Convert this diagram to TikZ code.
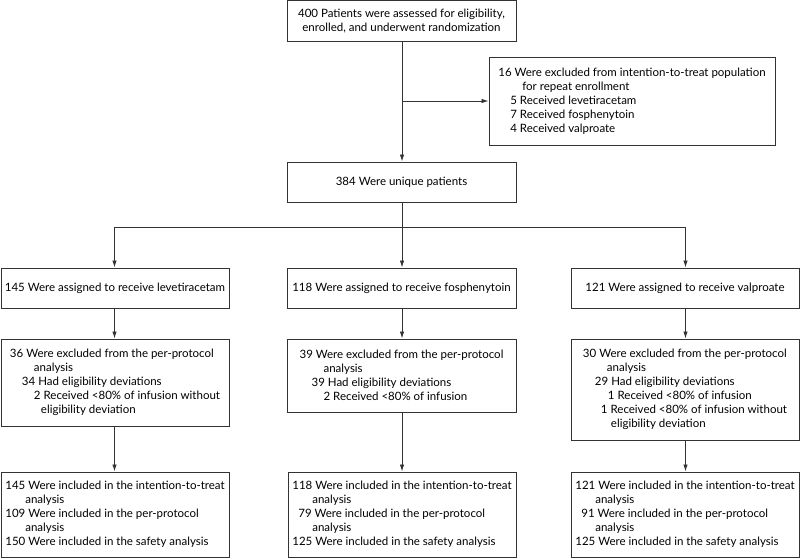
\documentclass[tikz,border=0pt]{standalone}
\usepackage{fontspec}
\setmainfont{Lato}
\usetikzlibrary{arrows.meta}
\definecolor{linecol}{gray}{0.2}
\tikzset{
  box/.style={draw=linecol, line width=1pt, inner sep=0pt, align=left,
    font={\fontsize{11.5}{14}\selectfont}},
  conn/.style={draw=linecol, line width=0.9pt},
  arr/.style={conn, -{Latex[length=7pt,width=4.5pt]}},
}
\newcommand{\ind}[1]{\hspace*{#1pt}}
\begin{document}
\begin{tikzpicture}[x=1pt,y=-1pt]
\useasboundingbox (0,0) rectangle (800,558);
\fill[white] (0,0) rectangle (800,558);

\node[box, minimum width=229pt, minimum height=40.5pt, align=center] (top) at (401.5,20.75)
  {400 Patients were assessed for eligibility,\\enrolled, and underwent randomization};
\node[box, minimum width=286pt, minimum height=88pt] (excl) at (632,101)
  {16 Were excluded from intention-to-treat population\\
   \ind{24}for repeat enrollment\\
   \ind{12}5 Received levetiracetam\\
   \ind{12}7 Received fosphenytoin\\
   \ind{12}4 Received valproate};
\node[box, minimum width=229pt, minimum height=40pt] (uniq) at (401.5,182)
  {384 Were unique patients};

\node[box, minimum width=228pt, minimum height=40pt] (lev) at (115,288)
  {145 Were assigned to receive levetiracetam};
\node[box, minimum width=229pt, minimum height=40pt] (fos) at (401.5,288)
  {118 Were assigned to receive fosphenytoin};
\node[box, minimum width=228pt, minimum height=40pt] (val) at (685,288)
  {121 Were assigned to receive valproate};

\node[box, minimum width=228pt, minimum height=87pt] (ex1) at (115,382.5)
  {36 Were excluded from the per-protocol\\
   \ind{24}analysis\\
   \ind{12}34 Had eligibility deviations\\
   \ind{24}2 Received <80\% of infusion without\\
   \ind{31}eligibility deviation};
\node[box, minimum width=229pt, minimum height=73pt] (ex2) at (401.5,375.5)
  {39 Were excluded from the per-protocol\\
   \ind{24}analysis\\
   \ind{12}39 Had eligibility deviations\\
   \ind{24}2 Received <80\% of infusion};
\node[box, minimum width=228pt, minimum height=101pt] (ex3) at (685,389.5)
  {30 Were excluded from the per-protocol\\
   \ind{24}analysis\\
   \ind{12}29 Had eligibility deviations\\
   \ind{25}1 Received <80\% of infusion\\
   \ind{18}1 Received <80\% of infusion without\\
   \ind{28}eligibility deviation};

\node[box, minimum width=228pt, minimum height=85pt] (in1) at (115,514.5)
  {145 Were included in the intention-to-treat\\
   \ind{20}analysis\\
   109 Were included in the per-protocol\\
   \ind{20}analysis\\
   150 Were included in the safety analysis};
\node[box, minimum width=228pt, minimum height=85pt] (in2) at (402,514.5)
  {118 Were included in the intention-to-treat\\
   \ind{20}analysis\\
   \ind{6}79 Were included in the per-protocol\\
   \ind{20}analysis\\
   125 Were included in the safety analysis};
\node[box, minimum width=228pt, minimum height=85pt] (in3) at (685,514.5)
  {121 Were included in the intention-to-treat\\
   \ind{20}analysis\\
   \ind{6}91 Were included in the per-protocol\\
   \ind{20}analysis\\
   125 Were included in the safety analysis};

\coordinate (split) at (402,101);
\coordinate (hub) at (402,227);
\coordinate (hl) at (114.5,227);
\coordinate (hr) at (685.5,227);

\draw[arr] (top.south -| split) -- (uniq.north -| split);
\draw[arr] (split) -- (excl.west |- split);
\draw[conn] (uniq.south -| hub) -- (hub);
\draw[arr] (hub) -- (fos.north -| hub);
\draw[arr] (hl) |- (hr) -- (val.north -| hr);
\draw[arr] (hl) -- (lev.north -| hl);

\draw[arr] (lev.south -| hl) -- (ex1.north -| hl);
\draw[arr] (fos.south -| hub) -- (ex2.north -| hub);
\draw[arr] (val.south -| hr) -- (ex3.north -| hr);
\draw[arr] (ex1.south -| hl) -- (in1.north -| hl);
\draw[arr] (ex2.south -| hub) -- (in2.north -| hub);
\draw[arr] (ex3.south -| hr) -- (in3.north -| hr);
\end{tikzpicture}
\end{document}
